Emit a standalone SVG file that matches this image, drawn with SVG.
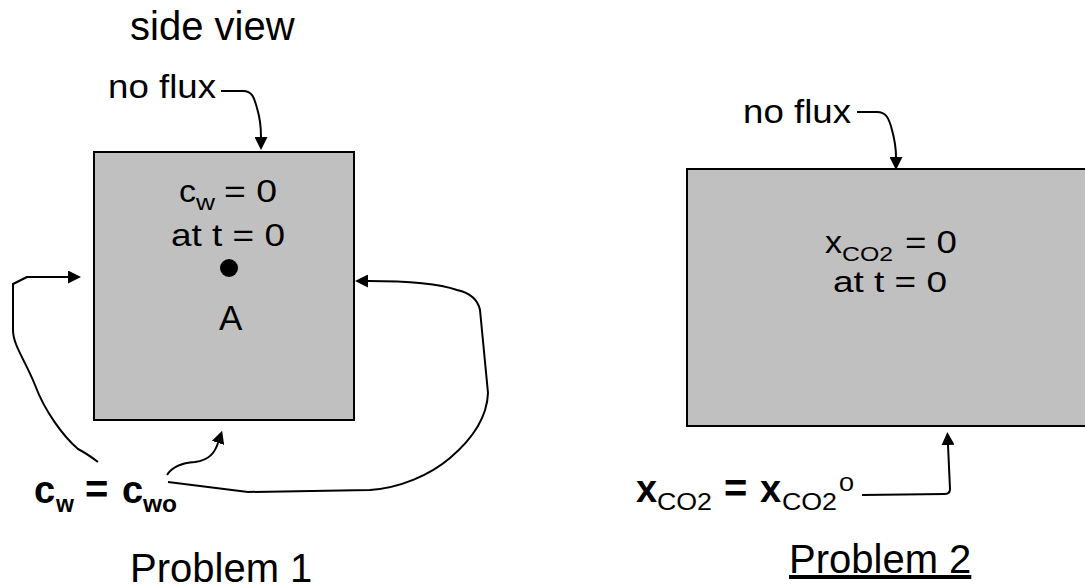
<svg xmlns="http://www.w3.org/2000/svg" width="1085" height="587" viewBox="0 0 1085 587">
<style>
.t{font-family:"Liberation Sans",Arial,sans-serif;fill:#000}
.b{font-weight:bold}
.box{fill:#c0c0c0;stroke:#000;stroke-width:2}
.c{fill:none;stroke:#000;stroke-width:2;stroke-linejoin:round}
</style>
<defs>
<marker id="ah" viewBox="0 0 13 13" refX="0" refY="6.5" markerWidth="13" markerHeight="13" markerUnits="userSpaceOnUse" orient="auto">
<path d="M0,0 L13,6.5 L0,13 z" fill="#000"/>
</marker>
</defs>
<rect width="1085" height="587" fill="#fff"/>
<text class="t" x="130" y="40" font-size="40">side view</text>

<g id="problem1-box">
<rect class="box" x="94" y="152" width="260" height="268"/>
<text class="t" font-size="32"><tspan x="179" y="202" textLength="17" lengthAdjust="spacingAndGlyphs">c</tspan><tspan x="196" y="210" font-size="22" textLength="19" lengthAdjust="spacingAndGlyphs">w</tspan><tspan x="224" y="202" textLength="53" lengthAdjust="spacingAndGlyphs">= 0</tspan></text>
<text class="t" x="171" y="246" font-size="32" textLength="114" lengthAdjust="spacingAndGlyphs">at t = 0</text>
<circle cx="229" cy="268" r="9" fill="#000"/>
<text class="t" x="219" y="330" font-size="35">A</text>
</g>

<g id="problem1-noflux">
<text class="t" x="108" y="98" font-size="33" textLength="108" lengthAdjust="spacingAndGlyphs">no flux</text>
</g>

<g id="problem1-bc">
<text class="t b" font-size="38"><tspan x="34" y="503">c</tspan><tspan x="56" y="512" font-size="23">w</tspan><tspan x="85" y="503" font-size="40">=</tspan><tspan x="122" y="503">c</tspan><tspan x="143" y="512" font-size="23" textLength="34" lengthAdjust="spacingAndGlyphs">wo</tspan></text>
</g>

<g id="problem1-title">
<text class="t" x="130" y="582" font-size="40">Problem 1</text>
</g>

<g id="problem2-box">
<rect class="box" x="687" y="169" width="410" height="257"/>
<text class="t" font-size="32"><tspan x="825" y="253" textLength="17" lengthAdjust="spacingAndGlyphs">x</tspan><tspan x="842" y="261" font-size="21" textLength="51" lengthAdjust="spacingAndGlyphs">CO2</tspan><tspan x="905" y="253" textLength="52" lengthAdjust="spacingAndGlyphs">= 0</tspan></text>
<text class="t" x="833" y="292" font-size="30" textLength="114" lengthAdjust="spacingAndGlyphs">at t = 0</text>
</g>

<g id="problem2-noflux">
<text class="t" x="743" y="123" font-size="33" textLength="108" lengthAdjust="spacingAndGlyphs">no flux</text>
</g>

<g id="problem2-bc">
<text class="t" font-size="38"><tspan x="636" y="502" class="b">x</tspan><tspan x="657" y="510" font-size="23" textLength="55" lengthAdjust="spacingAndGlyphs">CO2</tspan><tspan x="724" y="502" class="b" font-size="40">=</tspan><tspan x="760" y="502" class="b">x</tspan><tspan x="782" y="510" font-size="23" textLength="55" lengthAdjust="spacingAndGlyphs">CO2</tspan><tspan x="839" y="491" font-size="20" textLength="15" lengthAdjust="spacingAndGlyphs">0</tspan></text>
</g>

<g id="problem2-title">
<text class="t" x="789" y="573" font-size="40" text-decoration="underline">Problem 2</text>
</g>

<g id="connectors">
<path class="c" marker-end="url(#ah)" d="M221,91 L243,91 C252,91 254,97 257,108 C260,118 261,128 261,137"/>
<path class="c" marker-end="url(#ah)" d="M98,462 C90,456 84,452 78,449 C64,437 45,412 35,385 C25,360 13,345 13,330 L13,284 L27,277 L68,277"/>
<path class="c" marker-end="url(#ah)" d="M167,475 C172,467 180,463 195,462 C210,460 215,452 218,443"/>
<path class="c" marker-end="url(#ah)" d="M168,482 L248,492 L370,490 C400,488 430,475 450,458 C470,441 487,420 488,393 L480,310 C478,300 470,293 457,290 C440,284 410,281 368,281"/>
<path class="c" marker-end="url(#ah)" d="M857,112 L877,112 C886,112 889,118 892,130 C895,141 896,149 896,157"/>
<path class="c" marker-end="url(#ah)" d="M862,495 L945,494 Q950,494 950,489 L948,445"/>
</g>
</svg>
